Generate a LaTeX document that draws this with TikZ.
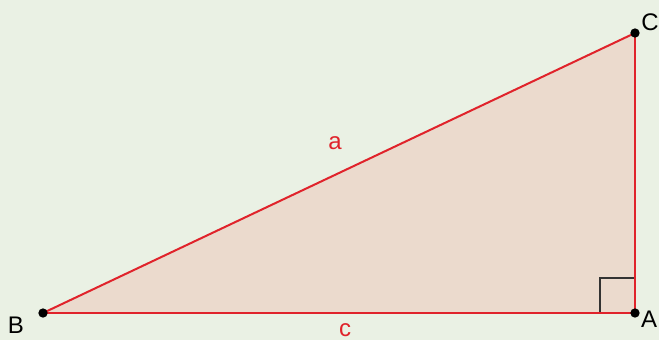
\documentclass[tikz,border=0pt]{standalone}
\usepackage{fontspec}
\setmainfont{Liberation Sans}
\usepackage{xcolor}
\usetikzlibrary{positioning,calc}
\definecolor{bgGreen}{HTML}{EAF1E4}
\definecolor{triFill}{HTML}{EBDACD}
\definecolor{sideRed}{HTML}{E0232B}
\definecolor{markGray}{HTML}{333333}

\begin{document}
\begin{tikzpicture}[
  x=0.75pt, y=0.75pt,
  vtx/.style={circle, fill=black, inner sep=0pt, minimum size=7pt},
  vlab/.style={font=\fontsize{18}{20}\selectfont, text=black, inner sep=0pt},
  slab/.style={font=\fontsize{18}{20}\selectfont, text=sideRed, inner sep=0pt},
  side/.style={draw=sideRed, line width=1.5pt},
  line width=0.6pt, color=black
]
\fill[bgGreen] (0,0) rectangle (659,340);
\useasboundingbox (0,0) rectangle (659,340);

\coordinate (B) at (43,27);
\coordinate (A) at (635,27);
\coordinate (C) at (635,307);

% triangle
\fill[triFill] (B) -- (A) -- (C) -- cycle;

% right angle mark
\coordinate (m1) at (600,27);
\coordinate (m2) at (600,62);
\coordinate (m3) at (635,62);
\draw[markGray, line width=1.3pt] (m1) -- (m2) -- (m3);

\draw[side] (B) -- (C);
\draw[side] (B) -- (A);
\draw[side] (A) -- (C);

\node[vtx] (dotB) at (B) {};
\node[vtx] (dotA) at (A) {};
\node[vtx] (dotC) at (C) {};

\node[vlab] (labB) at (16,15) {B};
\node[vlab] (labA) at (649,21) {A};
\node[vlab] (labC) at (650,318) {C};
\node[slab] (a) at (335,197) {a};
\node[slab] (c) at (345,10) {c};
\end{tikzpicture}
\end{document}
